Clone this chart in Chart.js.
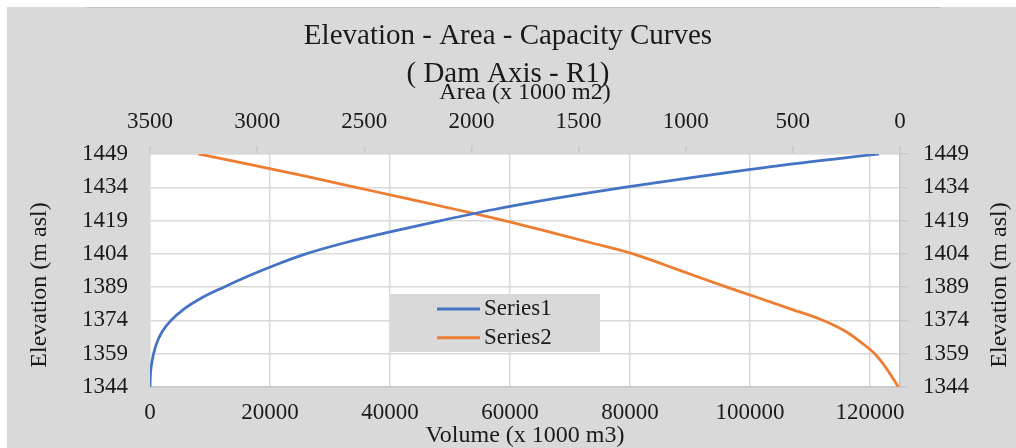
<!DOCTYPE html>
<html>
<head>
<meta charset="utf-8">
<script src="https://cdn.jsdelivr.net/npm/chart.js@4.4.1/dist/chart.umd.min.js"></script>
<style>
html,body{margin:0;padding:0;background:#fff;}
#wrap{width:1016px;height:448px;position:relative;}
</style>
</head>
<body>
<div id="wrap"><canvas id="c" width="1016" height="448"></canvas></div>
<script>
// ---- data ----
const titleLines = ["Elevation - Area - Capacity Curves", "( Dam Axis - R1)"];
const seriesLabels = ["Series1", "Series2"];
const elevations = [1344,1349,1354,1359,1364,1369,1374,1379,1384,1389,1394,1399,1404,1409,1414,1419,1424,1429,1434,1439,1444,1449];
const volumes = [0,60,250,600,1150,2050,3500,5600,8500,12300,16400,20900,26000,32500,40200,48500,57300,67500,79000,92000,105500,121500];
const areas = [8,40,75,118,180,253,358,505,655,808,955,1097,1245,1442,1642,1847,2072,2305,2540,2775,3020,3275];
const elevationTicks = [1344,1359,1374,1389,1404,1419,1434,1449];
const volumeTicks = [0,20000,40000,60000,80000,100000,120000];
const areaTicks = [0,500,1000,1500,2000,2500,3000,3500];
const axisTitles = { volume: "Volume (x 1000 m3)", area: "Area (x 1000 m2)", elevation: "Elevation (m asl)" };

const FAMILY = "'Liberation Serif', 'Times New Roman', serif";
const TEXT = '#1a1a1a';
const tickFont = { family: FAMILY, size: 23, lineHeight: 1.2 };
const axTitleFont = { family: FAMILY, size: 24, lineHeight: 1 };

const bgPlugin = {
  id: 'bg',
  beforeDraw(chart) {
    const { ctx, chartArea: a } = chart;
    ctx.save();
    ctx.fillStyle = '#ffffff';
    ctx.fillRect(0, 0, chart.width, chart.height);
    ctx.fillStyle = '#d9d9d9';
    ctx.fillRect(7, 7, chart.width - 7, chart.height - 7);
    ctx.strokeStyle = '#bfbfbf';
    ctx.lineWidth = 1;
    ctx.beginPath(); ctx.moveTo(87, 7.5); ctx.lineTo(940, 7.5); ctx.stroke();
    ctx.fillStyle = '#ffffff';
    ctx.fillRect(a.left, a.top, a.right - a.left, a.bottom - a.top);
    ctx.restore();
  }
};

const boxLegendPlugin = {
  id: 'boxLegend',
  afterDraw(chart) {
    const { ctx, chartArea: a } = chart;
    const x0 = a.left + 240, y0 = a.top + 140, w = 210, h = 58;
    ctx.save();
    ctx.fillStyle = '#d9d9d9';
    ctx.fillRect(x0, y0, w, h);
    ctx.font = "23px " + FAMILY;
    ctx.textBaseline = 'middle';
    ctx.textAlign = 'left';
    chart.data.datasets.forEach((ds, i) => {
      const cy = y0 + 15 + i * 28.7;
      ctx.strokeStyle = ds.borderColor;
      ctx.lineWidth = 3;
      ctx.beginPath(); ctx.moveTo(x0 + 47, cy); ctx.lineTo(x0 + 90, cy); ctx.stroke();
      ctx.fillStyle = TEXT;
      ctx.fillText(ds.label, x0 + 94, cy);
    });
    ctx.restore();
  }
};

// side axis titles (both read bottom-to-top, as in the reference)
const sideTitlePlugin = {
  id: 'sideTitles',
  afterDraw(chart) {
    const { ctx } = chart;
    [40, 1000].forEach(x => {
      ctx.save();
      ctx.translate(x, 285);
      ctx.rotate(-Math.PI / 2);
      ctx.font = "24px " + FAMILY;
      ctx.fillStyle = TEXT;
      ctx.textAlign = 'center';
      ctx.textBaseline = 'middle';
      ctx.fillText(axisTitles.elevation, 0, 0);
      ctx.restore();
    });
  }
};

const mkTicks = arr => scale => { scale.ticks = arr.map(v => ({ value: v })); };

new Chart(document.getElementById('c'), {
  type: 'scatter',
  data: {
    datasets: [
      {
        label: seriesLabels[0],
        data: elevations.map((e, i) => ({ x: volumes[i], y: e })),
        xAxisID: 'x', yAxisID: 'y',
        showLine: true, borderColor: '#4472c4', backgroundColor: '#4472c4',
        borderWidth: 2.75, pointRadius: 0, cubicInterpolationMode: 'monotone'
      },
      {
        label: seriesLabels[1],
        data: elevations.map((e, i) => ({ x: areas[i], y: e })),
        xAxisID: 'x2', yAxisID: 'y',
        showLine: true, borderColor: '#ed7d31', backgroundColor: '#ed7d31',
        borderWidth: 2.75, pointRadius: 0, cubicInterpolationMode: 'monotone'
      }
    ]
  },
  options: {
    responsive: false,
    animation: false,
    devicePixelRatio: 1,
    layout: { padding: 0 },
    plugins: {
      legend: { display: false },
      tooltip: { enabled: false },
      title: {
        display: true, text: titleLines, color: TEXT,
        font: { family: FAMILY, size: 29, lineHeight: '38px', weight: 'normal' },
        padding: { top: 17.5, bottom: -31 }
      }
    },
    scales: {
      x: {
        type: 'linear', position: 'bottom', min: 0, max: 125000,
        afterBuildTicks: mkTicks(volumeTicks),
        ticks: { callback: v => String(v), padding: 12, font: tickFont, color: TEXT, maxRotation: 0, autoSkip: false },
        grid: { color: '#d9d9d9', lineWidth: 1.5, drawTicks: false },
        border: { color: '#c8c8c8', width: 1.5 },
        title: { display: true, text: axisTitles.volume, font: axTitleFont, color: TEXT, padding: { top: 0, bottom: 0 } },
        afterFit: s => { s.height = 61; }
      },
      x2: {
        type: 'linear', position: 'top', min: 0, max: 3500, reverse: true,
        afterBuildTicks: mkTicks(areaTicks),
        ticks: { callback: v => String(v), padding: 10, font: tickFont, color: TEXT, maxRotation: 0, autoSkip: false },
        grid: { drawOnChartArea: false, drawTicks: true, tickLength: 8, color: '#c8c8c8', lineWidth: 1.5 },
        border: { color: '#d9d9d9', width: 1.5 },
        title: { display: true, text: axisTitles.area, font: axTitleFont, color: TEXT, padding: { top: 18.5, bottom: 0 } },
        afterFit: s => { s.height = 91.5; }
      },
      y: {
        type: 'linear', position: 'left', min: 1344, max: 1449,
        afterBuildTicks: mkTicks(elevationTicks),
        ticks: { callback: v => String(v), padding: 22, font: tickFont, color: TEXT, autoSkip: false },
        grid: { color: '#d9d9d9', lineWidth: 1.5, drawTicks: false },
        border: { color: '#d9d9d9', width: 1.5 },
        title: { display: false },
        afterFit: s => { s.width = 150; }
      },
      y2: {
        type: 'linear', position: 'right', min: 1344, max: 1449,
        afterBuildTicks: mkTicks(elevationTicks),
        ticks: { callback: v => String(v), padding: 15, font: tickFont, color: TEXT, autoSkip: false },
        grid: { drawOnChartArea: false, drawTicks: true, tickLength: 8, color: '#c8c8c8', lineWidth: 1.5 },
        border: { color: '#c8c8c8', width: 1.5 },
        afterFit: s => { s.width = 116; }
      }
    }
  },
  plugins: [bgPlugin, boxLegendPlugin, sideTitlePlugin]
});
</script>
</body>
</html>
